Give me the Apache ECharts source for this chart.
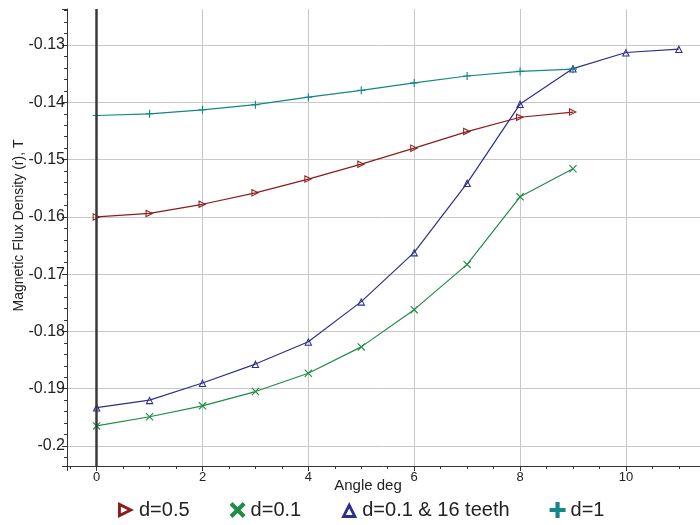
<!DOCTYPE html>
<html>
<head>
<meta charset="utf-8">
<title>Magnetic Flux Density vs Angle</title>
<script src="https://cdn.jsdelivr.net/npm/echarts@6/dist/echarts.min.js"></script>
<style>
  html, body { margin: 0; padding: 0; background: #ffffff; }
  #chart { width: 700px; height: 525px; }
</style>
</head>
<body>
<div id="chart"></div>
<script>
// Rotor angle (degrees) at which each field value was sampled
const angles = [0, 1, 2, 3, 4, 5, 6, 7, 8, 9];
const anglesTeeth = [0, 1, 2, 3, 4, 5, 6, 7, 8, 9, 10, 11];

// Radial flux density B(r) in tesla for each configuration
const fluxD05 = [-0.1600, -0.1594, -0.1578, -0.1558, -0.1534, -0.1508, -0.1480, -0.1451, -0.1426, -0.1417];
const fluxD01 = [-0.1965, -0.1949, -0.1930, -0.1905, -0.1873, -0.1827, -0.1762, -0.1683, -0.1565, -0.1516];
const fluxD01Teeth = [-0.1933, -0.1920, -0.1890, -0.1857, -0.1818, -0.1748, -0.1662, -0.1541, -0.1403, -0.1341, -0.1313, -0.1307];
const fluxD1 = [-0.1423, -0.1420, -0.1413, -0.1404, -0.1391, -0.1379, -0.1366, -0.1354, -0.1346, -0.1342];

const seriesNames = ['d=0.5', 'd=0.1', 'd=0.1 & 16 teeth', 'd=1'];
const seriesColors = ['#8c1c1c', '#1f8c48', '#2e2e8c', '#148787'];

// Small plot markers (thin outlines)
const markRight = 'path://M0,0L10,5L0,10ZM1.3,2.1L1.3,7.9L7.09,5Z';
const markCross = 'path://M0,1L1,0L10,9L9,10ZM9,0L10,1L1,10L0,9Z';
const markUp = 'path://M5,0L10,10L0,10ZM5,2.91L2.1,8.7L7.9,8.7Z';
const markPlus = 'path://M4.3,0H5.7V4.3H10V5.7H5.7V10H4.3V5.7H0V4.3H4.3Z';

// Bold legend icons
const iconRight = 'path://M0,0L10,5L0,10ZM1.8,2.91L1.8,7.09L5.97,5Z';
const iconCross = 'path://M0,1.8L1.8,0L10,8.2L8.2,10ZM8.2,0L10,1.8L1.8,10L0,8.2Z';
const iconUp = 'path://M5,0L10,10L0,10ZM5,4.03L2.91,8.2L7.09,8.2Z';
const iconPlus = 'path://M3.7,0H6.3V3.7H10V6.3H6.3V10H3.7V6.3H0V3.7H3.7Z';

const pair = (xs, ys) => ys.map((y, i) => [xs[i], y]);

const FONT = '"Liberation Sans", Arial, Helvetica, sans-serif';

function lineSeries(idx, xs, ys, symbol) {
  return {
    name: seriesNames[idx],
    type: 'line',
    data: pair(xs, ys),
    symbol: symbol,
    symbolSize: 8,
    showAllSymbol: true,
    lineStyle: { color: seriesColors[idx], width: 1.2 },
    itemStyle: { color: seriesColors[idx] },
    emphasis: { disabled: true }
  };
}

const series = [
  lineSeries(0, angles, fluxD05, markRight),
  lineSeries(1, angles, fluxD01, markCross),
  lineSeries(2, anglesTeeth, fluxD01Teeth, markUp),
  lineSeries(3, angles, fluxD1, markPlus)
];

// Heavy vertical reference line at zero angle
series[0].markLine = {
  silent: true,
  symbol: 'none',
  label: { show: false },
  lineStyle: { color: '#3a3a3a', width: 2.5, type: 'solid' },
  data: [{ xAxis: 0 }]
};

const chart = echarts.init(document.getElementById('chart'), null, { renderer: 'canvas' });

chart.setOption({
  animation: false,
  backgroundColor: '#ffffff',
  textStyle: { fontFamily: FONT },
  grid: { left: 67, right: 0, top: 9, bottom: 59, containLabel: false, outerBoundsMode: 'none' },
  legend: {
    left: 113,
    top: 495,
    itemWidth: 16,
    itemHeight: 16,
    itemGap: 40,
    textStyle: { fontSize: 20, color: '#222', fontFamily: FONT },
    data: [
      { name: seriesNames[0], icon: iconRight },
      { name: seriesNames[1], icon: iconCross },
      { name: seriesNames[2], icon: iconUp },
      { name: seriesNames[3], icon: iconPlus }
    ]
  },
  xAxis: {
    type: 'value',
    min: -0.56,
    max: 11.4,
    splitNumber: 6,
    name: 'Angle deg',
    nameLocation: 'middle',
    nameGap: 12,
    nameMoveOverlap: false,
    nameTextStyle: { fontSize: 15, color: '#222', padding: [0, 31, 0, 0], fontFamily: FONT },
    axisLine: { show: true, onZero: false, lineStyle: { color: '#333', width: 1 } },
    axisTick: { show: true, length: 5, lineStyle: { color: '#333' } },
    minorTick: { show: true, splitNumber: 4, length: 3, lineStyle: { color: '#333' } },
    axisLabel: { fontSize: 13, color: '#222', margin: 5, showMinLabel: false, showMaxLabel: false, fontFamily: FONT },
    splitLine: { show: true, showMinLine: false, showMaxLine: false, lineStyle: { color: '#c8c8c8', width: 1 } }
  },
  yAxis: {
    type: 'value',
    min: -0.2035,
    max: -0.1237,
    splitNumber: 8,
    name: 'Magnetic Flux Density (r), T',
    nameLocation: 'middle',
    nameGap: 41,
    nameMoveOverlap: false,
    nameTextStyle: { fontSize: 14, color: '#222', padding: [0, 0, 0, 24], fontFamily: FONT },
    axisLine: { show: true, onZero: false, lineStyle: { color: '#333', width: 1 } },
    axisTick: { show: true, length: 5, lineStyle: { color: '#333' } },
    minorTick: { show: true, splitNumber: 5, length: 3, lineStyle: { color: '#333' } },
    axisLabel: {
      fontSize: 16, color: '#222', margin: 2, showMinLabel: false, showMaxLabel: false, fontFamily: FONT,
      formatter: v => String(parseFloat(v.toFixed(3)))
    },
    splitLine: { show: true, showMinLine: false, showMaxLine: false, lineStyle: { color: '#c8c8c8', width: 1 } }
  },
  series: series
});
</script>
</body>
</html>
